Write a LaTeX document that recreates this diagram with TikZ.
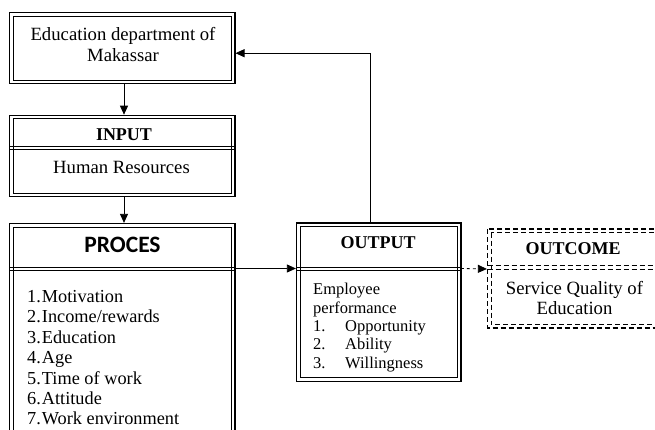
\documentclass[tikz,border=0pt]{standalone}
\usepackage{fontspec}
\setmainfont{Liberation Serif}
\newfontfamily\calibfont{Carlito}
\usetikzlibrary{arrows.meta}
\newcommand\dblframe[3][]{%
  \draw[line width=1.2pt,#1] (#2) rectangle (#3);
  \draw[line width=0.9pt,#1] ([shift={(3.5pt,-3.5pt)}]#2) rectangle ([shift={(-3.5pt,3.5pt)}]#3);}
\newcommand\dbldiv[3][]{%
  \draw[line width=0.9pt,#1] ([yshift=1.7pt]#2) -- ([yshift=1.7pt]#3);
  \draw[line width=0.9pt,#1] ([yshift=-1.7pt]#2) -- ([yshift=-1.7pt]#3);}
\begin{document}
\begin{tikzpicture}[x=1pt,y=-1pt,
  area/.style={inner sep=0pt, anchor=north west},
  txt/.style={inner sep=0pt, font=\fontsize{18.7}{21}\selectfont, align=center},
  hdr/.style={txt, font=\fontsize{18}{21}\selectfont\bfseries},
  conn/.style={line width=0.8pt, -{Triangle[length=9pt,width=8pt]}, shorten >=0.6pt},
  dsh/.style={dash pattern=on 5pt off 3pt},
]
\useasboundingbox (0,0) rectangle (655,430);
% box areas
\node[area, minimum width=225pt, minimum height=71pt] (edu) at (9.5,12.5) {};
\node[area, minimum width=225pt, minimum height=32pt] (inh) at (9.5,115.3) {};
\node[area, minimum width=225pt, minimum height=49pt] (inb) at (9.5,147.3) {};
\node[area, minimum width=225pt, minimum height=45pt] (proch) at (9.5,223.5) {};
\node[area, minimum width=225pt, minimum height=180pt] (procb) at (9.5,268.5) {};
\node[area, minimum width=164pt, minimum height=45.5pt] (outh) at (296.5,223) {};
\node[area, minimum width=164pt, minimum height=112.5pt] (outb) at (296.5,268.5) {};
\node[area, minimum width=200pt, minimum height=38pt] (outch) at (487.5,229) {};
\node[area, minimum width=200pt, minimum height=60.5pt] (outcb) at (487.5,267) {};
% frames
\dblframe{edu.north west}{edu.south east}
\dblframe{inh.north west}{inb.south east}
\dbldiv{inh.south west}{inh.south east}
\dblframe{proch.north west}{procb.south east}
\dbldiv{proch.south west}{proch.south east}
\dblframe{outh.north west}{outb.south east}
\dbldiv{outh.south west}{outh.south east}
\dblframe[dsh]{outch.north west}{outcb.south east}
\dbldiv[dsh]{outch.south west}{outch.south east}
% texts
\node[txt] (edut) at (123,44.5) {Education department of\\Makassar};
\node[hdr] (int) at (124,135) {INPUT};
\node[txt] (inbt) at (121.5,167) {Human Resources};
\node[inner sep=0pt, font=\fontsize{23.5}{26}\calibfont\bfseries] (procht) at (122.5,245) {PROCES};
\node[inner sep=0pt, anchor=north west, align=left, font=\fontsize{18.3}{20.4}\selectfont] (procbt) at (27,290.2)
  {1.\kern1pt Motivation\\2.\kern1pt Income/rewards\\3.\kern1pt Education\\4.\kern1pt Age\\5.\kern1pt Time of work\\6.\kern1pt Attitude\\7.\kern1pt Work environment};
\node[hdr] (outht) at (378,243) {OUTPUT};
\node[inner sep=0pt, anchor=north west, align=left, font=\fontsize{16.5}{18.3}\selectfont] (outbt) at (313,283.2)
  {Employee\\performance\\\makebox[32pt][l]{1.}Opportunity\\\makebox[32pt][l]{2.}Ability\\\makebox[32pt][l]{3.}Willingness};
\node[hdr] (outcht) at (573,249) {OUTCOME};
\node[txt, font=\fontsize{18.7}{20}\selectfont] (outcbt) at (574.5,298) {Service Quality of\\Education};
% connectors
\draw[conn] (edu.south -| 124,0) -- (inh.north -| 124,0);
\draw[conn] (inb.south -| 124,0) -- (proch.north -| 124,0);
\draw[conn] (procb.north east) -- (outb.north west);
\draw[conn] ([xshift=-8.5pt]outh.north) |- ([yshift=-5pt]edu.east);
\draw[conn, dashed] (outb.north east) -- ([yshift=-2pt]outcb.north west);
\end{tikzpicture}
\end{document}
